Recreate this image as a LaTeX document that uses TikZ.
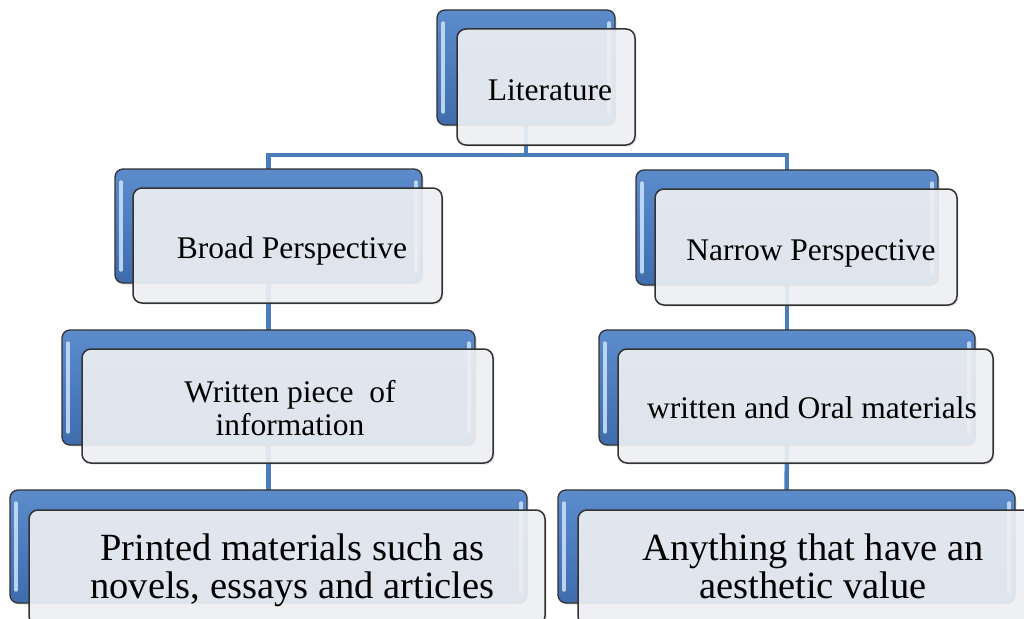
\documentclass[tikz,border=0pt]{standalone}
\usepackage{fontspec}
\setmainfont{Liberation Serif}
\usetikzlibrary{backgrounds,shadows}
\definecolor{connblue}{RGB}{74,126,187}
\definecolor{backtop}{RGB}{92,140,204}
\definecolor{backbot}{RGB}{62,108,172}
\definecolor{edgegray}{RGB}{50,50,50}
\definecolor{frontfill}{RGB}{240,242,245}
\definecolor{hlblue}{RGB}{200,222,248}
\tikzset{
  backbox/.style={rectangle, rounded corners=8pt, draw=edgegray, line width=1.3pt,
    top color=backtop, bottom color=backbot, inner sep=0pt,
    drop shadow={opacity=0.25, shadow xshift=1.5pt, shadow yshift=-1.5pt},
    path picture={
      \draw[hlblue, line width=3.5pt, line cap=round, opacity=0.9]
        ([xshift=6pt,yshift=-13pt]path picture bounding box.north west) --
        ([xshift=6pt,yshift=13pt]path picture bounding box.south west);
      \draw[hlblue, line width=3.5pt, line cap=round, opacity=0.9]
        ([xshift=-6pt,yshift=-13pt]path picture bounding box.north east) --
        ([xshift=-6pt,yshift=13pt]path picture bounding box.south east);
    }},
  frontbox/.style={rectangle, rounded corners=9pt, draw=edgegray, line width=1.5pt,
    fill=frontfill, fill opacity=0.9, inner sep=0pt,
    drop shadow={opacity=0.2, shadow xshift=1.5pt, shadow yshift=-1.5pt}},
  conn/.style={connblue, line width=4.5pt},
  midtxt/.style={font=\fontsize{31.5}{33}\selectfont, inner sep=0pt, anchor=base, text=black},
  bigtxt/.style={font=\fontsize{38.5}{38}\selectfont, inner sep=0pt, anchor=base, text=black},
}
\begin{document}
\begin{tikzpicture}[x=1pt,y=-1pt]
\useasboundingbox (0,0) rectangle (1024,618);
\clip (0,0) rectangle (1024,618);
\coordinate (bus) at (0,155);

% Literature
\node[backbox, minimum width=178pt, minimum height=115pt] (litb) at (526,67.5) {};
\node[frontbox, minimum width=178pt, minimum height=116pt] (litf) at (546,87) {};
\node[midtxt] (t-lit) at (550,100) {Literature};

% Broad Perspective
\node[backbox, minimum width=307pt, minimum height=114pt] (broadb) at (268.5,226) {};
\node[frontbox, minimum width=309pt, minimum height=115pt] (broadf) at (287.5,245.5) {};
\node[midtxt] (t-broad) at (292,258) {Broad Perspective};

% Narrow Perspective
\node[backbox, minimum width=302pt, minimum height=115pt] (narrowb) at (787,227.5) {};
\node[frontbox, minimum width=302pt, minimum height=116pt] (narrowf) at (806,247) {};
\node[midtxt] (t-narrow) at (811,260) {Narrow Perspective};

% Written piece of information
\node[backbox, minimum width=413pt, minimum height=115pt] (writb) at (268.5,387.5) {};
\node[frontbox, minimum width=411pt, minimum height=114pt] (writf) at (287.5,406) {};
\node[midtxt] (t-writ) at (290,402) {\begin{tabular}[t]{@{}c@{}}Written piece\ \ of\\information\end{tabular}};

% written and Oral materials
\node[backbox, minimum width=376pt, minimum height=115pt] (oralb) at (787,387.5) {};
\node[frontbox, minimum width=375pt, minimum height=114pt] (oralf) at (805.5,406) {};
\node[midtxt] (t-oral) at (812,418) {written and Oral materials};

% Printed materials
\node[backbox, minimum width=517pt, minimum height=113pt] (printb) at (268.5,546.5) {};
\node[frontbox, minimum width=516pt, minimum height=115pt] (printf) at (287,567.5) {};
\node[bigtxt] (t-print) at (292.5,560) {\begin{tabular}[t]{@{}c@{}}Printed materials such as\\novels, essays and articles\end{tabular}};

% Anything
\node[backbox, minimum width=457pt, minimum height=113pt] (anyb) at (786.5,546.5) {};
\node[frontbox, minimum width=467pt, minimum height=115pt] (anyf) at (811.5,567.5) {};
\node[bigtxt] (t-any) at (813,560) {\begin{tabular}[t]{@{}c@{}}Anything that have an\\aesthetic value\end{tabular}};

\begin{pgfonlayer}{background}
\fill[white] (0,0) rectangle (1024,618);
\draw[conn] (litb.center) -- (litb.center |- bus) -| (broadb.center);
\draw[conn] (litb.center) -- (litb.center |- bus) -| (narrowb.center);
\draw[conn] (broadb.center) -- (writb.center);
\draw[conn] (writb.center) -- (printb.center);
\draw[conn] (narrowb.center) -- (oralb.center);
\draw[conn] (oralb.center) -- (anyb.center);
\end{pgfonlayer}
\end{tikzpicture}
\end{document}
